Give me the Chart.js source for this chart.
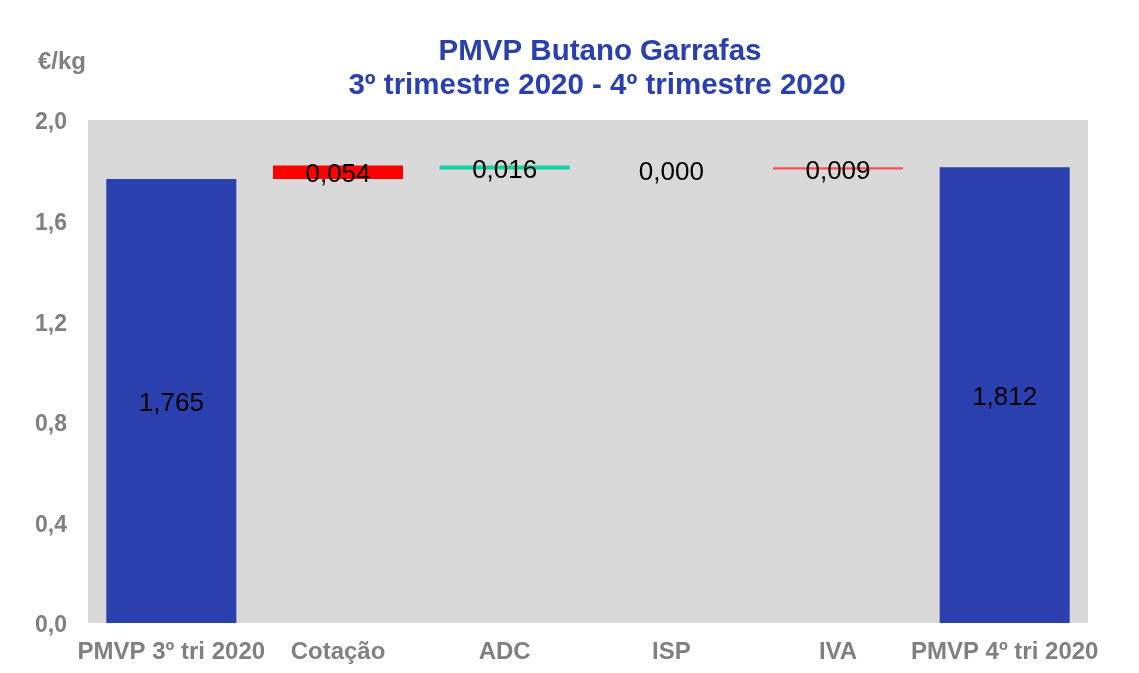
<!DOCTYPE html>
<html lang="pt">
<head>
    <meta charset="UTF-8">
    <title>PMVP Butano Garrafas</title>
    <script src="https://cdn.jsdelivr.net/npm/chart.js"></script>
    <style>
        body {
            margin: 0;
            background-color: #fff;
        }
        .chart-container {
            width: 1139px;
            height: 673px;
        }
    </style>
</head>
<body>

<div class="chart-container">
    <canvas id="waterfallChart"></canvas>
</div>

<script>
// Chart data
const categories = ['PMVP 3º tri 2020', 'Cotação', 'ADC', 'ISP', 'IVA', 'PMVP 4º tri 2020'];
const startValue = 1.765;
const deltas = [0.054, -0.016, 0.000, 0.009];
const endValue = 1.812;
const barColors = ['#2940AE', '#FF0000', '#12D3A0', '#FF5050', '#FF5050', '#2940AE'];
const yTicks = [0, 0.4, 0.8, 1.2, 1.6, 2.0];
const titleLines = ['PMVP Butano Garrafas', '3º trimestre 2020 - 4º trimestre 2020'];
const unitLabel = '€/kg';

const FONT = "Arial, 'Liberation Sans', sans-serif";

// Build floating ranges for the waterfall
const ranges = [[0, startValue]];
const labelValues = [startValue];
let running = startValue;
deltas.forEach(d => {
    const next = running + d;
    ranges.push([Math.min(running, next), Math.max(running, next)]);
    labelValues.push(Math.abs(d));
    running = next;
});
ranges.push([0, endValue]);
labelValues.push(endValue);

const fmt = (v, digits) => v.toFixed(digits).replace('.', ',');

// Grey plot background
const plotBackground = {
    id: 'plotBackground',
    beforeDraw(chart) {
        const { ctx, chartArea: a } = chart;
        ctx.save();
        ctx.fillStyle = '#D9D9D9';
        ctx.fillRect(a.left, a.top, a.right - a.left, a.bottom - a.top);
        ctx.restore();
    }
};

// Title, unit and value labels
const textLayer = {
    id: 'textLayer',
    afterDatasetsDraw(chart) {
        const ctx = chart.ctx;
        ctx.save();
        ctx.textAlign = 'center';
        ctx.textBaseline = 'middle';

        ctx.fillStyle = '#2940AE';
        ctx.font = 'bold 29.5px ' + FONT;
        ctx.fillText(titleLines[0], 600, 52);
        ctx.fillText(titleLines[1], 597, 86);

        ctx.fillStyle = '#808080';
        ctx.font = 'bold 24px ' + FONT;
        ctx.textAlign = 'left';
        ctx.fillText(unitLabel, 38, 62);

        ctx.textAlign = 'center';
        ctx.fillStyle = '#000';
        ctx.font = '26px ' + FONT;
        chart.getDatasetMeta(0).data.forEach((bar, i) => {
            const p = bar.getProps(['x', 'y', 'base'], true);
            ctx.fillText(fmt(labelValues[i], 3), p.x, (p.y + p.base) / 2 + 3);
        });
        ctx.restore();
    }
};

const ctx = document.getElementById('waterfallChart').getContext('2d');
new Chart(ctx, {
    type: 'bar',
    data: {
        labels: categories,
        datasets: [{
            data: ranges,
            backgroundColor: barColors,
            borderWidth: 0,
            barPercentage: 0.78,
            categoryPercentage: 1
        }]
    },
    options: {
        responsive: true,
        maintainAspectRatio: false,
        animation: false,
        layout: {
            padding: { top: 120, right: 51, left: 0, bottom: 0 }
        },
        plugins: {
            legend: { display: false },
            tooltip: { enabled: false }
        },
        scales: {
            x: {
                grid: { display: false, drawTicks: false },
                border: { display: false },
                ticks: {
                    color: '#808080',
                    font: { family: FONT, size: 24, weight: 'bold' },
                    padding: 15,
                    maxRotation: 0,
                    autoSkip: false
                },
                afterFit(scale) { scale.height = 50; }
            },
            y: {
                min: 0,
                max: 2.0,
                grid: { display: false, drawTicks: false },
                border: { display: false },
                afterBuildTicks(scale) {
                    scale.ticks = yTicks.map(v => ({ value: v }));
                },
                ticks: {
                    color: '#808080',
                    font: { family: FONT, size: 23, weight: 'bold' },
                    padding: 21,
                    labelOffset: 3,
                    callback: v => fmt(v, 1)
                },
                afterFit(scale) { scale.width = 88; }
            }
        }
    },
    plugins: [plotBackground, textLayer]
});
</script>
</body>
</html>
